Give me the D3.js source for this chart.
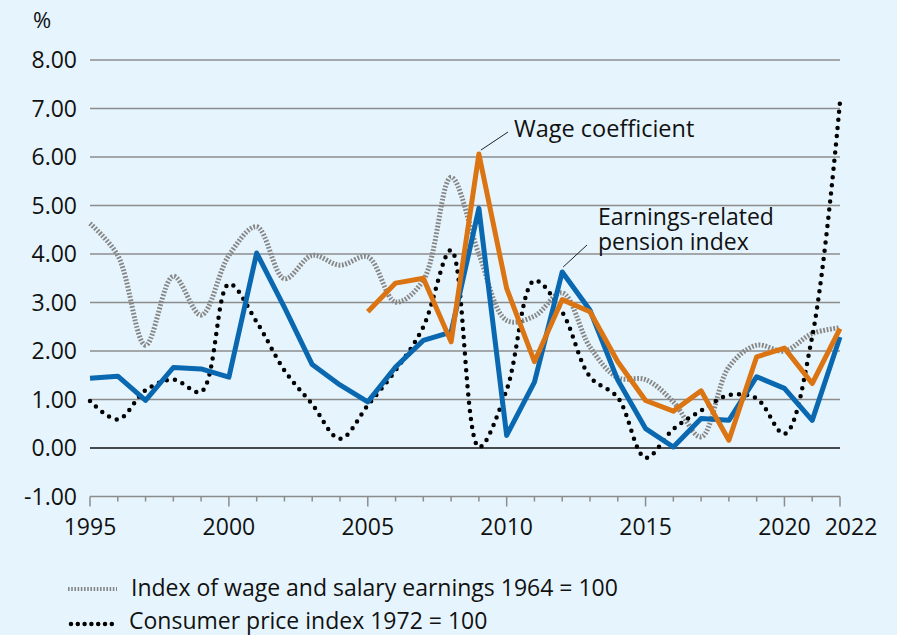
<!DOCTYPE html>
<html>
<head>
<meta charset="utf-8">
<script src="https://cdn.jsdelivr.net/npm/d3@7"></script>
<style>
  body { margin: 0; background: #e6f5fd; }
  svg { display: block; }
  text { font-family: "Open Sans", "Noto Sans", sans-serif; fill: #111; }
</style>
</head>
<body>
<div id="chart"></div>
<script>
const years = d3.range(1995, 2023);

// Index of wage and salary earnings 1964 = 100
const wageIndex = [4.63, 3.97, 2.12, 3.54, 2.74, 3.97, 4.56, 3.49, 3.97, 3.77,
  3.94, 3.01, 3.46, 5.58, 4.0, 2.63, 2.72, 3.2, 2.08, 1.45,
  1.41, 0.95, 0.23, 1.67, 2.12, 2.0, 2.36, 2.48];

// Consumer price index 1972 = 100
const cpi = [0.97, 0.59, 1.19, 1.41, 1.16, 3.38, 2.6, 1.6, 0.9, 0.19,
  0.88, 1.6, 2.5, 4.08, 0.02, 1.2, 3.45, 2.8, 1.47, 1.04,
  -0.2, 0.39, 0.77, 1.09, 1.02, 0.29, 2.3, 7.14];

// Earnings-related pension index
const pensionIndex = [1.44, 1.48, 0.98, 1.66, 1.63, 1.46, 4.02, 2.9, 1.72, 1.3,
  0.95, 1.67, 2.22, 2.39, 4.94, 0.26, 1.36, 3.63, 2.84, 1.4,
  0.4, 0.02, 0.61, 0.57, 1.47, 1.23, 0.57, 2.29];

// Wage coefficient (from 2005)
const wageYears = d3.range(2005, 2023);
const wageCoef = [2.81, 3.4, 3.5, 2.19, 6.06, 3.29, 1.78, 3.06, 2.81, 1.78,
  0.98, 0.76, 1.18, 0.16, 1.88, 2.06, 1.33, 2.46];

const yTicks = [-1, 0, 1, 2, 3, 4, 5, 6, 7, 8];
const xLabels = [1995, 2000, 2005, 2010, 2015, 2020, 2022];

const width = 897, height = 635;
const svg = d3.select("#chart").append("svg")
  .attr("width", width).attr("height", height);

const x = d3.scaleLinear().domain([1995, 2022]).range([90, 840]);
const y = d3.scaleLinear().domain([-1, 8]).range([496.5, 60]);

// gridlines
svg.append("g").selectAll("line")
  .data(yTicks)
  .join("line")
  .attr("x1", x(1995)).attr("x2", x(2022))
  .attr("y1", d => y(d)).attr("y2", d => y(d))
  .attr("stroke", d => d === 0 ? "#111" : "#8c8c8c")
  .attr("stroke-width", 1.5);

// y labels (plain hyphen for the minus)
svg.append("g").selectAll("text")
  .data(yTicks)
  .join("text")
  .attr("x", 77).attr("y", d => y(d))
  .attr("dy", "0.36em")
  .attr("text-anchor", "end")
  .style("font-size", "23px")
  .text(d => d.toFixed(2));

svg.append("text").attr("x", 33).attr("y", 28)
  .style("font-size", "22px").text("%");

// x ticks along the -1 line
svg.append("g").selectAll("line")
  .data(years)
  .join("line")
  .attr("x1", d => x(d)).attr("x2", d => x(d))
  .attr("y1", y(-1))
  .attr("y2", d => xLabels.includes(d) ? y(-1) + 10 : y(-1) + 5)
  .attr("stroke", "#8c8c8c").attr("stroke-width", 1.5);

svg.append("g").selectAll("text")
  .data(xLabels)
  .join("text")
  .attr("x", d => d === 2022 ? x(d) + 11 : x(d)).attr("y", 535)
  .attr("text-anchor", "middle")
  .style("font-size", "23px")
  .text(d => d);

// series
const smooth = d3.line().x(d => x(d[0])).y(d => y(d[1])).curve(d3.curveCatmullRom);
const straight = d3.line().x(d => x(d[0])).y(d => y(d[1]));

svg.append("path")
  .datum(d3.zip(years, wageIndex))
  .attr("d", smooth)
  .attr("fill", "none")
  .attr("stroke", "#878787").attr("stroke-width", 5)
  .attr("stroke-dasharray", "1.8 1.6");

svg.append("path")
  .datum(d3.zip(years, cpi))
  .attr("d", smooth)
  .attr("fill", "none")
  .attr("stroke", "#000").attr("stroke-width", 4.5)
  .attr("stroke-linecap", "round")
  .attr("stroke-dasharray", "0 8.2");

svg.append("path")
  .datum(d3.zip(years, pensionIndex))
  .attr("d", straight)
  .attr("fill", "none")
  .attr("stroke", "#0a68b0").attr("stroke-width", 5)
  .attr("stroke-linejoin", "round");

svg.append("path")
  .datum(d3.zip(wageYears, wageCoef))
  .attr("d", straight)
  .attr("fill", "none")
  .attr("stroke", "#db7412").attr("stroke-width", 5)
  .attr("stroke-linejoin", "round");

// annotations
svg.append("line")
  .attr("x1", x(2009) + 2).attr("y1", y(6.06) - 4)
  .attr("x2", 508).attr("y2", 132)
  .attr("stroke", "#222").attr("stroke-width", 1);
svg.append("text").attr("x", 514).attr("y", 137)
  .style("font-size", "23.5px").text("Wage coefficient");

svg.append("line")
  .attr("x1", x(2012) + 1).attr("y1", y(3.63) - 5)
  .attr("x2", 587).attr("y2", 245)
  .attr("stroke", "#222").attr("stroke-width", 1);
svg.append("text").attr("x", 598).attr("y", 225)
  .style("font-size", "23px").text("Earnings-related");
svg.append("text").attr("x", 598).attr("y", 250)
  .style("font-size", "23px").text("pension index");

// legend
const legend = svg.append("g");
legend.append("line")
  .attr("x1", 68).attr("x2", 117).attr("y1", 589).attr("y2", 589)
  .attr("stroke", "#878787").attr("stroke-width", 4)
  .attr("stroke-dasharray", "1.6 1.6");
legend.append("text").attr("x", 131).attr("y", 596)
  .style("font-size", "23px").text("Index of wage and salary earnings 1964 = 100");
legend.append("line")
  .attr("x1", 71).attr("x2", 112).attr("y1", 624).attr("y2", 624)
  .attr("stroke", "#000").attr("stroke-width", 4.5)
  .attr("stroke-linecap", "round")
  .attr("stroke-dasharray", "0 6.8");
legend.append("text").attr("x", 129).attr("y", 629)
  .style("font-size", "23px").text("Consumer price index 1972 = 100");
</script>
</body>
</html>
